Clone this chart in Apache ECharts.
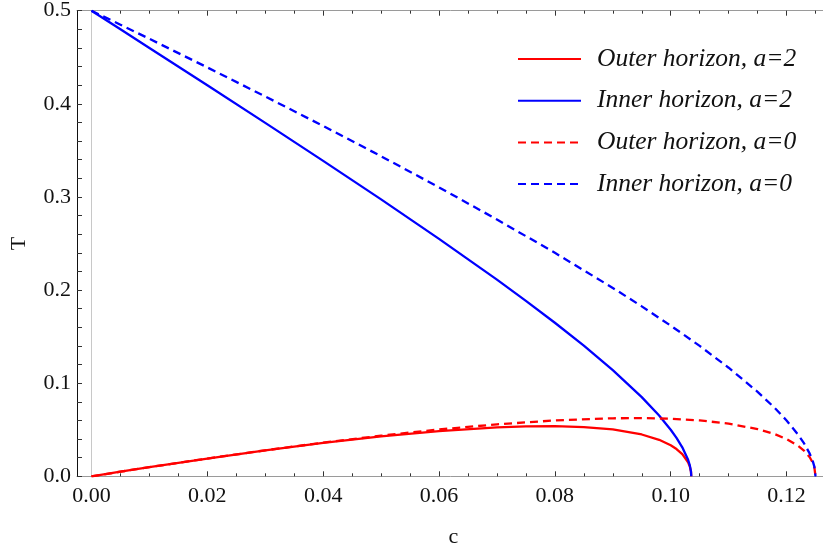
<!DOCTYPE html>
<html>
<head>
<meta charset="utf-8">
<script src="https://cdn.jsdelivr.net/npm/echarts@6/dist/echarts.min.js"></script>
<style>
  html, body { margin: 0; padding: 0; background: #fff; }
  #chart { width: 823px; height: 548px; }
</style>
</head>
<body>
<div id="chart"></div>
<script>
// Horizon temperature T against c, for a = 2 and a = 0
const cA2 = [0, 0.005, 0.01, 0.02, 0.03, 0.04, 0.05, 0.06, 0.07, 0.075, 0.08, 0.085, 0.09, 0.095, 0.098, 0.1, 0.101, 0.102, 0.103, 0.1033, 0.1035, 0.10355];
const outerA2 = [0, 0.0049, 0.0098, 0.0191, 0.0278, 0.0358, 0.0428, 0.0486, 0.0526, 0.0536, 0.0539, 0.0529, 0.0503, 0.0449, 0.0392, 0.0333, 0.0293, 0.0239, 0.0151, 0.0105, 0.0050, 0];
const innerA2 = [0.5, 0.4800, 0.4600, 0.4199, 0.3795, 0.3387, 0.2974, 0.2550, 0.2112, 0.1884, 0.1649, 0.1403, 0.1140, 0.0850, 0.0652, 0.0500, 0.0413, 0.0311, 0.0177, 0.0117, 0.0052, 0];

const cA0 = [0, 0.005, 0.01, 0.02, 0.03, 0.04, 0.05, 0.06, 0.07, 0.08, 0.09, 0.095, 0.1, 0.105, 0.11, 0.115, 0.118, 0.12, 0.122, 0.123, 0.124, 0.1245, 0.1248, 0.125];
const outerA0 = [0, 0.0049, 0.0098, 0.0191, 0.0279, 0.0362, 0.0436, 0.0503, 0.0558, 0.0600, 0.0623, 0.0625, 0.0618, 0.0600, 0.0566, 0.0507, 0.0452, 0.0400, 0.0326, 0.0276, 0.0204, 0.0148, 0.0096, 0];
const innerA0 = [0.5, 0.4850, 0.4698, 0.4391, 0.4079, 0.3762, 0.3437, 0.3103, 0.2758, 0.2400, 0.2023, 0.1825, 0.1618, 0.1400, 0.1166, 0.0907, 0.0732, 0.0600, 0.0446, 0.0356, 0.0244, 0.0168, 0.0104, 0];

const xMajorTicks = [0, 0.02, 0.04, 0.06, 0.08, 0.10, 0.12];
const xMinorTicks = [0.005, 0.01, 0.015, 0.025, 0.03, 0.035, 0.045, 0.05, 0.055, 0.065, 0.07, 0.075, 0.085, 0.09, 0.095, 0.105, 0.11, 0.115, 0.125];
const yTickLabels = ['0.0', '0.1', '0.2', '0.3', '0.4', '0.5'];

const seriesNames = ['Outer horizon, a=2', 'Inner horizon, a=2', 'Outer horizon, a=0', 'Inner horizon, a=0'];

function zip(xs, ys) { return xs.map((x, i) => [x, ys[i]]); }

const serif = 'Liberation Serif, Times New Roman, serif';
const X_MIN = -0.0025, X_MAX = 0.1275;
const frameGray = '#9a9a9a';
const tickColor = '#333';

function xFrame(position, showLabels) {
  return {
    type: 'value', position: position, min: X_MIN, max: X_MAX,
    axisLine: { show: true, onZero: false, lineStyle: { color: frameGray, width: 1 } },
    axisTick: { show: true, inside: true, length: 5, customValues: xMajorTicks, lineStyle: { color: tickColor } },
    axisLabel: {
      show: showLabels, customValues: xMajorTicks, margin: 9,
      formatter: v => v.toFixed(2),
      fontFamily: serif, fontSize: 22, color: '#111'
    },
    splitLine: { show: false },
    name: showLabels ? 'c' : '', nameLocation: 'middle', nameGap: 50,
    nameTextStyle: { fontFamily: serif, fontSize: 22, color: '#111' }
  };
}
function xMinor(position) {
  return {
    type: 'value', position: position, min: X_MIN, max: X_MAX,
    axisLine: { show: false },
    axisTick: { show: true, inside: true, length: 3, customValues: xMinorTicks, lineStyle: { color: tickColor } },
    axisLabel: { show: false },
    splitLine: { show: false }
  };
}

function line(name, xs, ys, color, dashed) {
  return {
    name: name, type: 'line', data: zip(xs, ys),
    xAxisIndex: 0, yAxisIndex: 0,
    symbol: 'none', smooth: false,
    lineStyle: { color: color, width: 2.3, type: dashed ? [8, 5] : 'solid' },
    itemStyle: { color: color },
    z: 3
  };
}

const chart = echarts.init(document.getElementById('chart'), null, { renderer: 'canvas' });
const series = [
  line(seriesNames[0], cA2, outerA2, '#ff0000', false),
  line(seriesNames[1], cA2, innerA2, '#0000ff', false),
  line(seriesNames[2], cA0, outerA0, '#ff0000', true),
  line(seriesNames[3], cA0, innerA0, '#0000ff', true)
];
// light vertical axis line through c = 0
series[0].markLine = {
  silent: true, symbol: 'none', label: { show: false },
  lineStyle: { color: '#c8c8c8', width: 1, type: 'solid' },
  data: [{ xAxis: 0 }], z: 1
};

chart.setOption({
  animation: false,
  backgroundColor: '#fff',
  grid: { left: 77, right: -7, top: 10.7, bottom: 71.7, containLabel: false, outerBoundsMode: 'none' },
  xAxis: [xFrame('bottom', true), xFrame('top', false), xMinor('bottom'), xMinor('top')],
  yAxis: [{
    type: 'value', position: 'left', min: 0, max: 0.5, interval: 0.1,
    axisLine: { show: true, onZero: false, lineStyle: { color: '#111', width: 1 } },
    axisTick: { show: true, inside: true, length: 5, lineStyle: { color: tickColor } },
    minorTick: { show: true, splitNumber: 5, length: 5, lineStyle: { color: tickColor } },
    axisLabel: {
      margin: 6, fontFamily: serif, fontSize: 22, color: '#111',
      formatter: v => yTickLabels[Math.round(v * 10)]
    },
    splitLine: { show: false },
    name: 'T', nameLocation: 'middle', nameGap: 47, nameRotate: 90,
    nameTextStyle: { fontFamily: serif, fontSize: 22, color: '#111' }
  }],
  legend: {
    orient: 'vertical', left: 517, top: 46, padding: 0,
    itemWidth: 63, itemHeight: 14, itemGap: 15.7,
    data: seriesNames,
    itemStyle: { opacity: 0 },
    textStyle: {
      fontFamily: serif, fontStyle: 'italic', fontSize: 25.5, color: '#111',
      lineHeight: 26, padding: [0, 0, 0, 11]
    }
  },
  series: series
});
</script>
</body>
</html>
